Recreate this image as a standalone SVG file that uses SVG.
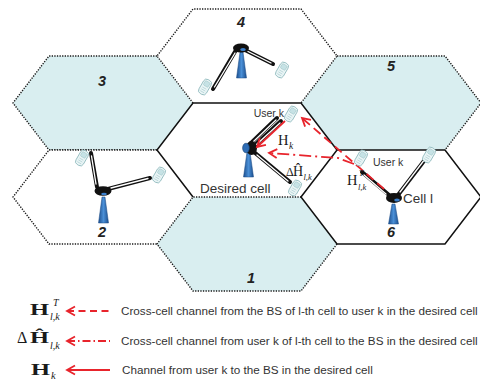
<svg xmlns="http://www.w3.org/2000/svg" width="480" height="383" viewBox="0 0 480 383">
<style>
  .fb{fill:#d9eef0;stroke:none}
  .fw{fill:#fff;stroke:none}
  .dot{fill:none;stroke:#1a1a1a;stroke-width:1.4;stroke-dasharray:1.3 1.3}
  .sol{fill:none;stroke:#111;stroke-width:1.5}
  .num{font-family:"Liberation Sans",Arial,sans-serif;font-weight:bold;font-style:italic;font-size:14.5px;fill:#222;text-anchor:middle}
  .lbl{font-family:"Liberation Sans",Arial,sans-serif;fill:#333}
  .leg{font-family:"Liberation Sans",Arial,sans-serif;font-size:11.7px;fill:#333}
  .m{font-family:"Liberation Serif","Times New Roman",serif;fill:#1a1a1a}
  .mb{font-weight:bold}
  .mi{font-style:italic}
  .armo{stroke:#111;stroke-width:4;stroke-linecap:round;fill:none}
  .armi{stroke:#fff;stroke-width:1.3;stroke-linecap:round;fill:none}
  .pole{fill:url(#poleg);stroke:#1a4a85;stroke-width:0.5}
  .hub{fill:#111}
  .dish{fill:#2f6db5;stroke:#163f70;stroke-width:0.6}
  .red{fill:none;stroke:#e8242c;stroke-width:1.8}
  .dash{stroke-dasharray:9 5}
  .dashdot{stroke-dasharray:12 4 2 4}
</style>
<defs>
  <linearGradient id="poleg" x1="0" y1="0" x2="1" y2="0">
    <stop offset="0" stop-color="#1c4f8f"/>
    <stop offset="0.5" stop-color="#4a8fd6"/>
    <stop offset="1" stop-color="#1c4f8f"/>
  </linearGradient>
  <marker id="ah" viewBox="-10 -6 13 12" refX="0" refY="0" markerWidth="13" markerHeight="12" markerUnits="userSpaceOnUse" orient="auto-start-reverse">
    <path d="M-8,-4.5 L0,0 L-8,4.5" fill="none" stroke="#e8242c" stroke-width="1.8" stroke-dasharray="none"/>
  </marker>
  <g id="phone">
    <rect x="-4.3" y="-8" width="8.6" height="16" rx="3.4" fill="#eaf5f6" stroke="#8db8bc" stroke-width="0.8"/>
    <rect x="-2.7" y="-6" width="5.4" height="5" rx="1" fill="#c6e2e5" stroke="#9cc3c6" stroke-width="0.5"/>
    <path d="M-2.3,1.3 h4.6 M-2.3,3.4 h4.6 M-2.3,5.5 h4.6" stroke="#a6cbce" stroke-width="0.6"/>
  </g>
</defs>

<!-- hexagonal cells: fills with the edges each cell owns -->
<g id="cell-3">
  <polygon class="fb" points="13,103 49,56 157,56 193,103 157,150 49,150"/>
  <polyline class="dot" points="157,56 49,56 13,103 49,150 157,150"/>
  <text class="num" x="102" y="86">3</text>
</g>
<g id="cell-5">
  <polygon class="fb" points="301,103 337,56 445,56 481,103 445,150 337,150"/>
  <polyline class="dot" points="337,56 445,56 481,103 445,150"/>
  <text class="num" x="391" y="71">5</text>
</g>
<g id="cell-4">
  <polygon class="fw" points="157,56 193,9 301,9 337,56 301,103 193,103"/>
  <polyline class="dot" points="193,103 157,56 193,9 301,9 337,56 301,103"/>
  <text class="num" x="241" y="27">4</text>
</g>
<g id="cell-2">
  <polygon class="fw" points="13,197 49,150 157,150 193,197 157,244 49,244"/>
  <polyline class="dot" points="157,150 49,150 13,197 49,244 157,244"/>
  <text class="num" x="102" y="237">2</text>
</g>
<g id="desired-cell">
  <polygon class="fw" points="157,150 193,103 301,103 337,150 301,197 193,197"/>
  <polyline class="sol" points="193,197 157,150 193,103 301,103 337,150"/>
  <text class="lbl" x="200" y="193" font-size="13.5">Desired cell</text>
</g>
<g id="cell-1">
  <polygon class="fb" points="157,244 193,197 301,197 337,244 301,291 193,291"/>
  <polyline class="dot" points="337,244 301,291 193,291 157,244 193,197 301,197"/>
  <text class="num" x="251" y="283">1</text>
</g>
<g id="cell-6">
  <polygon class="fw" points="301,197 337,150 445,150 481,197 445,244 337,244"/>
  <polygon class="sol" points="301,197 337,150 445,150 481,197 445,244 337,244"/>
  <text class="num" x="391" y="237">6</text>
  <text class="lbl" x="403" y="203" font-size="13.5">Cell l</text>
</g>

<!-- base stations -->
<g id="bs-4">
  <polygon class="pole" points="240,52 243,52 246.5,78 236.5,78"/>
  <line class="armo" x1="236" y1="50" x2="213" y2="89"/>
  <line class="armi" x1="235" y1="53" x2="214.5" y2="87"/>
  <line class="armo" x1="245" y1="50" x2="273" y2="64"/>
  <line class="armi" x1="248" y1="51.5" x2="271" y2="63"/>
  <ellipse class="hub" cx="241" cy="48" rx="8" ry="4.6"/>
  <ellipse fill="#3a7fcc" cx="243" cy="49.5" rx="2.8" ry="1.5"/>
</g>
<g id="bs-desired">
  <polygon class="pole" points="247,152 250,152 253.5,177 243.5,177"/>
  <line class="armo" x1="251" y1="143" x2="277" y2="118"/>
  <line class="armi" x1="253.5" y1="141.5" x2="276" y2="120"/>
  <line class="armo" x1="254" y1="146" x2="281" y2="121"/>
  <line class="armi" x1="256.5" y1="144.5" x2="280" y2="123"/>
  <line class="armo" x1="254" y1="152" x2="290" y2="182"/>
  <line class="armi" x1="257" y1="155" x2="288" y2="181"/>
  <ellipse class="hub" cx="251.5" cy="148" rx="5.5" ry="7"/>
  <ellipse class="dish" cx="246" cy="148" rx="3.4" ry="4.8"/>
</g>
<g id="bs-2">
  <polygon class="pole" points="102,197 105,197 108.5,223 98.5,223"/>
  <line class="armo" x1="97" y1="187" x2="91" y2="153"/>
  <line class="armi" x1="96" y1="184" x2="91.5" y2="156"/>
  <line class="armo" x1="108" y1="189" x2="150" y2="178"/>
  <line class="armi" x1="111" y1="188" x2="148" y2="178.5"/>
  <ellipse class="hub" cx="103" cy="191" rx="8.5" ry="4.8"/>
  <ellipse fill="#3a7fcc" cx="104" cy="194" rx="2.8" ry="1.3"/>
</g>
<g id="bs-l">
  <polygon class="pole" points="392,204 395,204 398.5,224 388.5,224"/>
  <line class="armo" x1="389" y1="195" x2="362" y2="172"/>
  <line class="armi" x1="386" y1="194" x2="364" y2="175"/>
  <line class="armo" x1="398" y1="195" x2="427" y2="157"/>
  <line class="armi" x1="400" y1="192" x2="425" y2="159"/>
  <ellipse class="hub" cx="394" cy="198" rx="8" ry="5"/>
  <ellipse fill="#3a7fcc" cx="397" cy="200" rx="2.8" ry="1.5"/>
</g>

<!-- channels -->
<g id="connectors">
  <line class="red" x1="285" y1="121" x2="257" y2="147" marker-end="url(#ah)"/>
  <line class="red dash" x1="384" y1="189" x2="302" y2="118" marker-end="url(#ah)"/>
  <polyline class="red dashdot" points="354,164 338,158 269,153" marker-end="url(#ah)"/>
</g>

<!-- user terminals -->
<g id="users">
  <use href="#phone" transform="translate(205,87) rotate(30)"/>
  <use href="#phone" transform="translate(282,70) rotate(30)"/>
  <use href="#phone" transform="translate(291,114) rotate(30)"/>
  <use href="#phone" transform="translate(295,188) rotate(30)"/>
  <use href="#phone" transform="translate(82,158) rotate(30)"/>
  <use href="#phone" transform="translate(159,175) rotate(30)"/>
  <use href="#phone" transform="translate(361,158) rotate(30)"/>
  <use href="#phone" transform="translate(429,155) rotate(30)"/>
  <text class="lbl" x="284" y="117" font-size="10.5" text-anchor="end">User k</text>
  <text class="lbl" x="373" y="166" font-size="10.5">User k</text>
</g>

<!-- channel labels -->
<g id="channel-labels">
  <text class="m" x="278" y="145" font-size="14.5">H</text>
  <text class="m mi" x="289" y="149" font-size="9.5">k</text>
  <text class="m" x="286" y="176" font-size="12">Δ</text>
  <text class="m" x="293" y="176" font-size="14">Ĥ</text>
  <text class="m mi" x="303.5" y="180" font-size="8.5">l,k</text>
  <text class="m" x="347" y="185" font-size="14.5">H</text>
  <text class="m mi" x="359" y="176" font-size="8">T</text>
  <text class="m mi" x="358" y="190" font-size="8.5">l,k</text>
</g>

<!-- legend -->
<g id="legend">
  <text class="m mb" x="30" y="315" font-size="17" textLength="19" lengthAdjust="spacingAndGlyphs">H</text>
  <text class="m mi" x="53" y="306" font-size="10">T</text>
  <text class="m mi" x="50" y="320" font-size="10">l,k</text>
  <line class="red" x1="67" y1="311" x2="110" y2="311" stroke-dasharray="7 4.5" marker-start="url(#ah)"/>
  <text class="leg" x="121" y="315">Cross-cell channel from the BS of l-th cell to user k in the desired cell</text>

  <text class="m" x="17" y="343" font-size="16">Δ</text>
  <text class="m mb" x="30" y="343" font-size="17" textLength="19" lengthAdjust="spacingAndGlyphs">Ĥ</text>
  <text class="m mi" x="50" y="349" font-size="10">l,k</text>
  <line class="red" x1="67" y1="341" x2="110" y2="341" stroke-dasharray="8 3 1.5 3" marker-start="url(#ah)"/>
  <text class="leg" x="121" y="345">Cross-cell channel from user k of l-th cell to the BS in the desired cell</text>

  <text class="m mb" x="31" y="375" font-size="17" textLength="19" lengthAdjust="spacingAndGlyphs">H</text>
  <text class="m mi" x="51" y="379" font-size="10.5">k</text>
  <line class="red" x1="67" y1="370" x2="110" y2="370" marker-start="url(#ah)"/>
  <text class="leg" x="122" y="374">Channel from user k to the BS in the desired cell</text>
</g>
</svg>
